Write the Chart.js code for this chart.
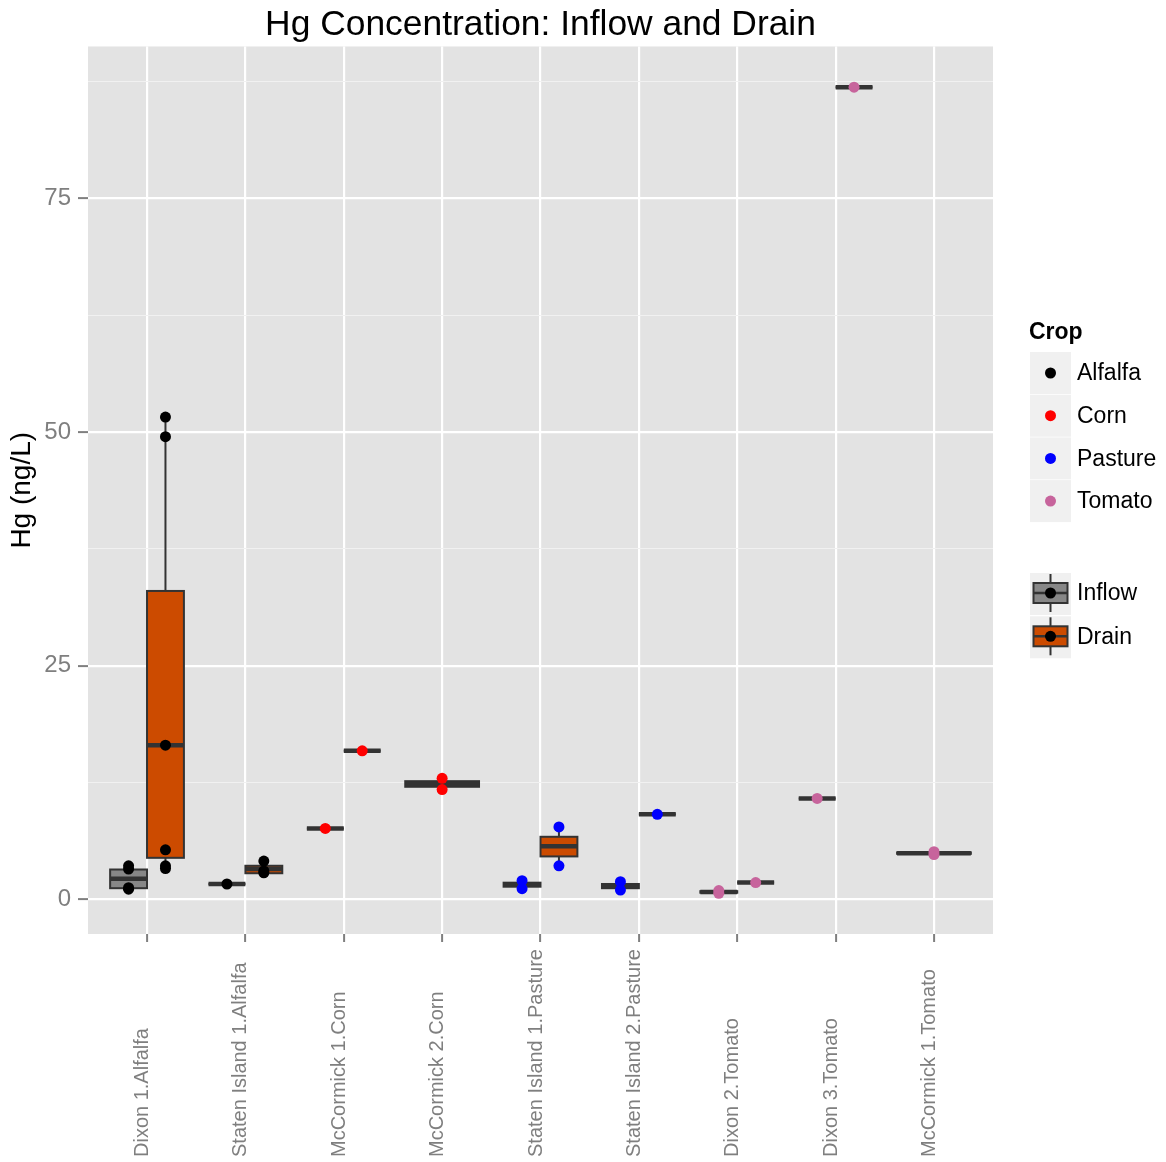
<!DOCTYPE html>
<html>
<head>
<meta charset="utf-8">
<script src="https://cdn.jsdelivr.net/npm/chart.js@4/dist/chart.umd.min.js"></script>
<style>
  html,body{margin:0;padding:0;background:#fff;}
  #wrap{width:1166px;height:1162px;}
</style>
</head>
<body>
<div id="wrap"><canvas id="chart" width="1166" height="1162"></canvas></div>
<script>
/* DATA */
const sites=["Dixon 1.Alfalfa","Staten Island 1.Alfalfa","McCormick 1.Corn","McCormick 2.Corn",
  "Staten Island 1.Pasture","Staten Island 2.Pasture","Dixon 2.Tomato","Dixon 3.Tomato","McCormick 1.Tomato"];
const siteCrop=["Alfalfa","Alfalfa","Corn","Corn","Pasture","Pasture","Tomato","Tomato","Tomato"];
const crops=["Alfalfa","Corn","Pasture","Tomato"];
const cropColors=["#000000","#ff0000","#0000ff","#c7649c"];
const groups=["Inflow","Drain"];
const groupFills=["#878787","#cc4b00"];
const yTicks=[0,25,50,75];

// box stats per site: [low whisker, q1, median, q3, high whisker]
const inflowBox=[[1.1,1.2,2.2,3.2,3.6],[1.65,1.65,1.65,1.65,1.65],[7.6,7.6,7.6,7.6,7.6],
  [11.75,12.05,12.35,12.65,12.95],[1.15,1.36,1.58,1.79,2.0],[1.0,1.2,1.42,1.65,1.9],
  [0.65,0.72,0.8,0.88,0.95],[10.8,10.8,10.8,10.8,10.8],[4.8,4.88,4.95,5.03,5.1]];
const drainBox=[[3.3,4.45,16.5,33.0,51.6],[2.8,2.8,3.25,3.6,4.1],[15.9,15.9,15.9,15.9,15.9],
  null,[3.6,4.6,5.7,6.7,7.75],[9.1,9.1,9.1,9.1,9.1],[1.8,1.8,1.8,1.8,1.8],
  [86.9,86.9,86.9,86.9,86.9],null];

// measured points per site
const inflowPts=[[1.1,1.25,3.25,3.6],[1.65],[7.6],[11.75,12.95],[1.15,2.0],[1.0,1.9],[0.65,0.95],[10.8],[4.8,5.1]];
const drainPts=[[3.3,3.6,5.3,16.5,49.5,51.6],[2.85,3.05,4.1],[15.9],[],[3.6,7.75],[9.1],[1.8],[86.9],[]];

/* DODGE HELPERS */
const boxes=[inflowBox,drainBox];
const pts=[inflowPts,drainPts];
function slot(i,g){
  const other=boxes[1-g][i];
  if(!other) return {c:i+1,w:0.75};
  return {c:i+1+(g===0?-0.1875:0.1875),w:0.375};
}

/* SCATTER DATASETS */
const datasets=crops.map((crop,k)=>{
  const data=[];
  sites.forEach((s,i)=>{
    if(siteCrop[i]!==crop) return;
    [0,1].forEach(g=>{
      if(!boxes[g][i]) return;
      const x=slot(i,g).c;
      pts[g][i].forEach(v=>data.push({x:x,y:v}));
    });
  });
  return {label:crop,data:data,backgroundColor:cropColors[k],borderWidth:0,pointRadius:5.5,pointHoverRadius:5.5};
});

const FONT='"Liberation Sans", Arial, Helvetica, sans-serif';

/* PANEL BACKGROUND */
const panelBg={
  id:"panelBg",
  beforeDraw(chart){
    const a=chart.chartArea,ctx=chart.ctx;
    ctx.save();ctx.fillStyle="#e3e3e3";
    ctx.fillRect(a.left,a.top,a.right-a.left,a.bottom-a.top);
    ctx.restore();
  }
};

/* BOXPLOTS */
const boxPlot={
  id:"boxPlot",
  beforeDatasetsDraw(chart){
    const xs=chart.scales.x,ys=chart.scales.y,ctx=chart.ctx;
    ctx.save();
    ctx.beginPath();
    ctx.rect(chart.chartArea.left,chart.chartArea.top,chart.chartArea.right-chart.chartArea.left,chart.chartArea.bottom-chart.chartArea.top);
    ctx.clip();
    sites.forEach((s,i)=>{
      [0,1].forEach(g=>{
        const b=boxes[g][i];
        if(!b) return;
        const p=slot(i,g);
        const xc=xs.getPixelForValue(p.c);
        const x0=xs.getPixelForValue(p.c-p.w/2),x1=xs.getPixelForValue(p.c+p.w/2);
        const yLo=ys.getPixelForValue(b[0]),yQ1=ys.getPixelForValue(b[1]),yMed=ys.getPixelForValue(b[2]),
              yQ3=ys.getPixelForValue(b[3]),yHi=ys.getPixelForValue(b[4]);
        ctx.strokeStyle="#333333";
        ctx.lineWidth=2;
        ctx.beginPath();
        ctx.moveTo(xc,yHi);ctx.lineTo(xc,yQ3);
        ctx.moveTo(xc,yQ1);ctx.lineTo(xc,yLo);
        ctx.stroke();
        ctx.fillStyle=groupFills[g];
        ctx.fillRect(x0,yQ3,x1-x0,yQ1-yQ3);
        ctx.strokeRect(x0,yQ3,x1-x0,yQ1-yQ3);
        ctx.lineWidth=4.5;
        ctx.beginPath();
        ctx.moveTo(x0,yMed);ctx.lineTo(x1,yMed);
        ctx.stroke();
      });
    });
    ctx.restore();
  }
};

/* X LABELS + LEGEND */
const extras={
  id:"extras",
  afterDraw(chart){
    const xs=chart.scales.x,ctx=chart.ctx;
    ctx.save();
    ctx.font="20px "+FONT;
    ctx.fillStyle="#7f7f7f";
    ctx.textAlign="left";
    ctx.textBaseline="alphabetic";
    sites.forEach((s,i)=>{
      const x=xs.getPixelForValue(i+1);
      ctx.save();
      ctx.translate(x+1,1157);
      ctx.rotate(-Math.PI/2);
      ctx.fillText(s,0,0);
      ctx.restore();
    });

    // legend
    const lx=1030,kw=41,kh=42;
    ctx.fillStyle="#000";
    ctx.textBaseline="middle";
    ctx.font="bold 23px "+FONT;
    ctx.fillText("Crop",1029,333);
    ctx.font="23px "+FONT;
    crops.forEach((c,k)=>{
      const y0=352+k*42.7;
      ctx.fillStyle="#f0f0f0";
      ctx.fillRect(lx,y0,kw,kh);
      ctx.fillStyle=cropColors[k];
      ctx.beginPath();ctx.arc(lx+kw/2,y0+kh/2,5.5,0,Math.PI*2);ctx.fill();
      ctx.fillStyle="#000";
      ctx.fillText(c,1077,y0+kh/2+1);
    });
    groups.forEach((gname,k)=>{
      const y0=573+k*43.3,cx=lx+kw/2,cy=y0+kh/2-1;
      ctx.fillStyle="#f0f0f0";
      ctx.fillRect(lx,y0,kw,kh);
      ctx.strokeStyle="#333333";
      ctx.lineWidth=2;
      ctx.beginPath();
      ctx.moveTo(cx,cy-19);ctx.lineTo(cx,cy+19);
      ctx.stroke();
      ctx.fillStyle=groupFills[k];
      ctx.fillRect(cx-17,cy-10,34,20);
      ctx.strokeRect(cx-17,cy-10,34,20);
      ctx.lineWidth=2.5;
      ctx.beginPath();ctx.moveTo(cx-17,cy);ctx.lineTo(cx+17,cy);ctx.stroke();
      ctx.fillStyle="#000";
      ctx.beginPath();ctx.arc(cx,cy,5.5,0,Math.PI*2);ctx.fill();
      ctx.fillText(gname,1077,cy+1);
    });
    ctx.restore();
  }
};

/* CHART */
new Chart(document.getElementById("chart"),{
  type:"scatter",
  data:{datasets:datasets},
  plugins:[panelBg,boxPlot,extras],
  options:{
    responsive:false,
    devicePixelRatio:1,
    animation:false,
    events:[],
    layout:{padding:{top:0,left:0,right:173,bottom:0}},
    plugins:{
      legend:{display:false},
      tooltip:{enabled:false},
      title:{
        display:true,
        fullSize:false,
        text:"Hg Concentration: Inflow and Drain",
        color:"#000",
        font:{family:FONT,size:35.4,weight:"normal",lineHeight:1.2},
        padding:{top:4,bottom:0}
      }
    },
    scales:{
      x:{
        type:"linear",
        min:0.4,max:9.6,
        afterBuildTicks:s=>{s.ticks=sites.map((n,i)=>({value:i+1}));},
        afterFit:s=>{s.height=228;},
        ticks:{display:false},
        border:{display:false},
        grid:{color:"#ffffff",lineWidth:2.2,tickLength:8,tickColor:"#7f7f7f",tickWidth:2,drawTicks:true}
      },
      y:{
        type:"linear",
        min:-3.7,max:91.25,
        afterBuildTicks:s=>{
          const t=[];
          yTicks.forEach(v=>{t.push({value:v});t.push({value:v+12.5});});
          s.ticks=t;
        },
        afterFit:s=>{s.width=88;},
        border:{display:false},
        ticks:{
          color:"#7f7f7f",
          font:{family:FONT,size:24},
          padding:7,
          callback:v=>yTicks.includes(v)?String(v):""
        },
        grid:{
          color:c=>yTicks.includes(c.tick.value)?"#ffffff":"#f1f1f1",
          lineWidth:c=>yTicks.includes(c.tick.value)?2.2:1,
          tickColor:c=>yTicks.includes(c.tick.value)?"#7f7f7f":"rgba(0,0,0,0)",
          tickWidth:2,
          tickLength:10
        },
        title:{
          display:true,
          text:"Hg (ng/L)",
          color:"#000",
          font:{family:FONT,size:28},
          padding:{top:5,bottom:0}
        }
      }
    }
  }
});
</script>
</body>
</html>
